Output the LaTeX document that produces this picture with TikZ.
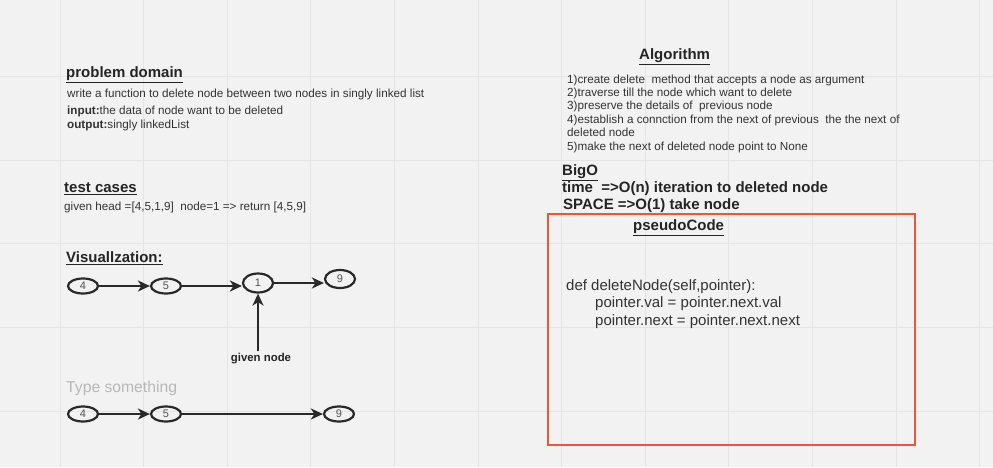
\documentclass[tikz,border=0pt]{standalone}
\usepackage{fontspec}
\setmainfont{Liberation Sans}
\usetikzlibrary{shapes.geometric,arrows.meta}
\definecolor{bg}{HTML}{F2F2F2}
\definecolor{gridc}{HTML}{E4E4E4}
\definecolor{txt}{HTML}{333333}
\definecolor{redbox}{HTML}{F0553A}
\definecolor{faint}{HTML}{B8B8B8}
\tikzset{
  txtnode/.style={anchor=west,inner sep=0pt,text=txt,font=\fontsize{11.7}{13}\selectfont},
  headnode/.style={anchor=west,inner sep=0pt,text=txt!70!black,font=\fontsize{15}{17}\selectfont\bfseries},
  boldnode/.style={anchor=west,inner sep=0pt,text=txt!70!black,font=\fontsize{15}{17}\selectfont\bfseries},
  codenode/.style={anchor=west,inner sep=0pt,text=txt,font=\fontsize{15}{17}\selectfont},
  lnode/.style={ellipse,draw=txt!80!black,line width=2.2pt,minimum width=30pt,minimum height=15pt,inner sep=0pt,text=txt!85,font=\fontsize{11}{12}\selectfont},
  arr/.style={draw=txt!80!black,line width=2.2pt,-{Stealth[length=12pt,width=11pt,inset=3.5pt]}},
}
\begin{document}
\begin{tikzpicture}[x=1pt,y=-1pt]
\fill[bg] (0,0) rectangle (993,467);
\useasboundingbox (0,0) rectangle (993,467);
% grid
\foreach \k in {0,...,11} {\draw[gridc,line width=0.8pt] ({60+83.6*\k},0) -- ({60+83.6*\k},467);}
\foreach \k in {0,...,4} {\draw[gridc,line width=0.8pt] (0,{76.5+83.6*\k}) -- (993,{76.5+83.6*\k});}

% problem domain
\node[headnode] (pd) at (66,75) {\underline{problem domain}};
\node[txtnode] (pd1) at (67,94.5) {write a function to delete node between two nodes in singly linked list};
\node[txtnode] (pd2) at (67,111) {\textbf{input:}the data of node want to be deleted};
\node[txtnode] (pd3) at (67,125) {\textbf{output:}singly linkedList};

% test cases
\node[headnode] (tc) at (64,189) {\underline{test cases}};
\node[txtnode] (tc1) at (64,207) {given head =[4,5,1,9]\ \ node=1 => return [4,5,9]};

% visualization
\node[headnode] (vis) at (66,258) {\underline{Visuallzation:}};
\node[lnode] (a4) at (83,286) {4};
\node[lnode] (a5) at (166,286) {5};
\node[lnode,minimum width=30pt,minimum height=19pt] (a1) at (258,283) {1};
\node[lnode,minimum width=30pt,minimum height=18pt] (a9) at (340,279) {9};
\draw[arr] (a4) -- (a5);
\draw[arr] (a5.east) -- (a1.west |- a5.east);
\draw[arr] (a1.east) -- (a9.west |- a1.east);
\node[anchor=center,inner sep=0pt,text=txt!70!black,font=\fontsize{11.4}{13}\selectfont\bfseries] (gn) at (261,359) {given node};
\draw[arr] (gn.north -| a1.south) ++(0,-2) -- (a1.south);

\node[anchor=west,inner sep=0pt,text=faint,font=\fontsize{15.7}{17}\selectfont] (ts) at (66,388) {Type something};
\node[lnode] (b4) at (83,414) {4};
\node[lnode] (b5) at (166,414) {5};
\node[lnode] (b9) at (339,414) {9};
\draw[arr] (b4) -- (b5);
\draw[arr] (b5) -- (b9);

% algorithm
\node[headnode] (alg) at (639,57) {\underline{Algorithm}};
\node[txtnode,anchor=north west,align=left,font=\fontsize{11.7}{13.4}\selectfont] (algtxt) at (567,74.5) {1)create delete\ \ method that accepts a node as argument\\
2)traverse till the node which want to delete\\
3)preserve the details of\ \ previous node\\
4)establish a connction from the next of previous\ \ the the next of\\
deleted node\\
5)make the next of deleted node point to None};

% BigO
\node[boldnode] (bigo) at (562,173) {\underline{BigO}};
\node[boldnode] (time) at (562,189) {time\ \ =>O(n) iteration to deleted node};
\node[boldnode] (space) at (563,205.5) {SPACE =>O(1) take node};

% pseudo code box
\draw[redbox,line width=1.5pt] (548,214) rectangle (915,445);
\node[boldnode] (pc) at (633,228) {\underline{pseudoCode}};
\node[codenode] (c1) at (566,287) {def deleteNode(self,pointer):};
\node[codenode] (c2) at (595,304) {pointer.val = pointer.next.val};
\node[codenode] (c3) at (595,322) {pointer.next = pointer.next.next};
\end{tikzpicture}
\end{document}
